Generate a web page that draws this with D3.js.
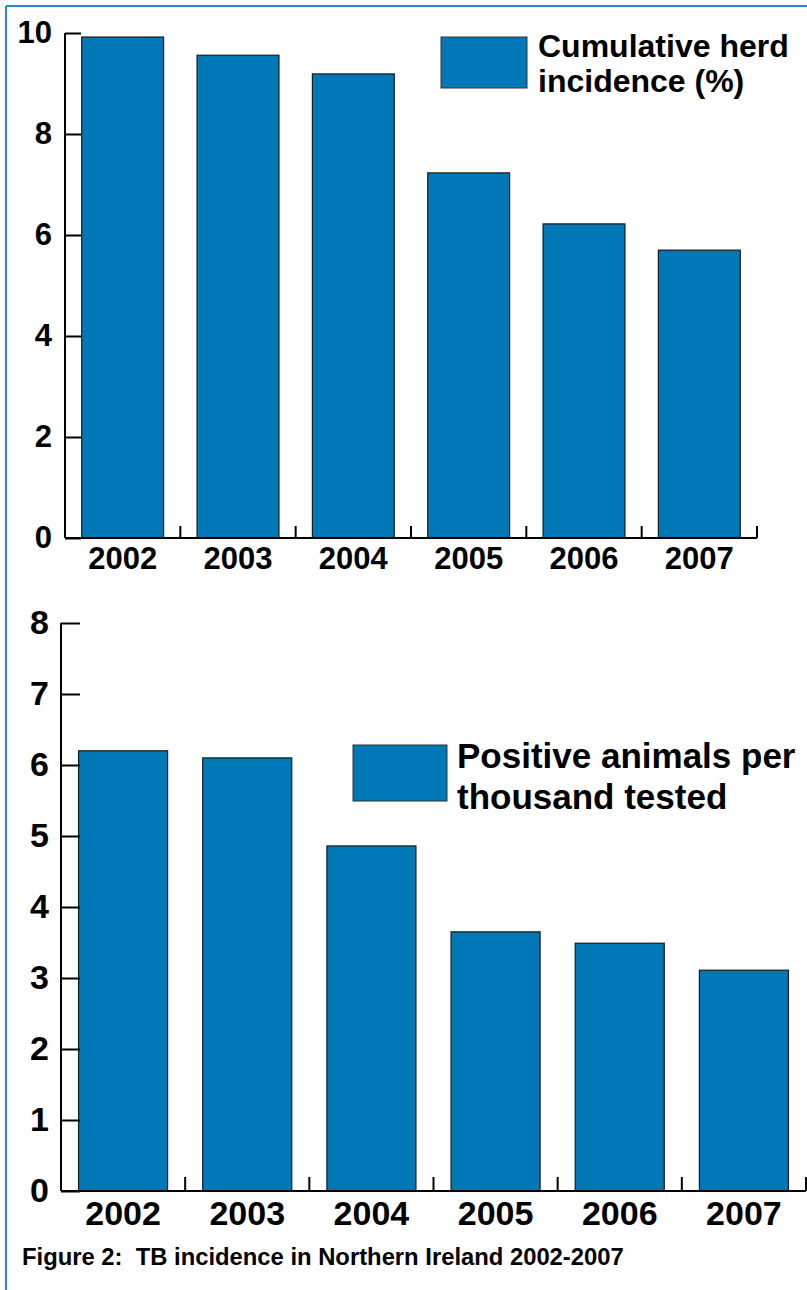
<!DOCTYPE html>
<html>
<head>
<meta charset="utf-8">
<script src="https://cdn.jsdelivr.net/npm/d3@7"></script>
<style>
  html, body { margin: 0; padding: 0; background: #fff; }
  svg { display: block; font-family: "Liberation Sans", Arial, Helvetica, sans-serif; font-weight: bold; }
</style>
</head>
<body>
<svg id="fig" width="807" height="1290"></svg>
<script>
// Year categories shared by both panels
const years = ["2002", "2003", "2004", "2005", "2006", "2007"];

// Panel 1: cumulative herd incidence (%)
const herdIncidence = [9.92, 9.56, 9.19, 7.23, 6.22, 5.70];
const herdTicks = [0, 2, 4, 6, 8, 10];
const herdLegend = ["Cumulative herd", "incidence (%)"];

// Panel 2: positive animals per thousand tested
const animalRate = [6.20, 6.10, 4.86, 3.65, 3.49, 3.11];
const animalTicks = [0, 1, 2, 3, 4, 5, 6, 7, 8];
const animalLegend = ["Positive animals per", "thousand tested"];

const caption = "Figure 2:  TB incidence in Northern Ireland 2002-2007";

const barFill = "#0077b6";
const frameColor = "#2a88c8";

const svg = d3.select("#fig");

// Frame along the top and left edges
svg.append("line").attr("x1", 6).attr("x2", 807).attr("y1", 6).attr("y2", 6)
  .attr("stroke", frameColor).attr("stroke-width", 2);
svg.append("line").attr("x1", 6).attr("x2", 6).attr("y1", 6).attr("y2", 1290)
  .attr("stroke", frameColor).attr("stroke-width", 2);

function panel(cfg) {
  const g = svg.append("g");
  const x = d3.scaleBand().domain(years).range([cfg.x0, cfg.x1])
    .paddingInner(cfg.padIn).paddingOuter(cfg.padIn / 2);
  const y = d3.scaleLinear().domain(cfg.domain).range([cfg.y0, cfg.y1]);

  // bars
  g.selectAll("rect.bar").data(cfg.values).join("rect")
    .attr("class", "bar")
    .attr("x", (d, i) => x(years[i]))
    .attr("y", d => y(d))
    .attr("width", x.bandwidth())
    .attr("height", d => y(0) - y(d))
    .attr("fill", barFill)
    .attr("stroke", "#1a1a1a")
    .attr("stroke-width", 1.2);

  // y axis with inward ticks
  const ya = g.append("g").attr("transform", `translate(${cfg.x0},0)`)
    .call(d3.axisLeft(y).tickValues(cfg.ticks).tickSize(-cfg.yTick)
      .tickPadding(cfg.yPad).tickFormat(d3.format("d")));
  ya.select(".domain").attr("stroke", "#000").attr("stroke-width", 2)
    .attr("d", `M0,${cfg.y1}V${cfg.y0}`);
  ya.selectAll(".tick line").attr("stroke", "#000").attr("stroke-width", 2);
  ya.selectAll(".tick text").attr("font-size", cfg.font).attr("fill", "#000")
    .attr("font-weight", "bold").attr("font-family", "Liberation Sans, Arial, sans-serif");

  // x axis with category labels
  const xa = g.append("g").attr("transform", `translate(0,${cfg.y0})`)
    .call(d3.axisBottom(x).tickSize(0).tickPadding(cfg.xPad));
  xa.select(".domain").attr("stroke", "#000").attr("stroke-width", 2)
    .attr("d", `M${cfg.x0},0H${cfg.x1}`);
  xa.selectAll(".tick text").attr("font-size", cfg.font).attr("fill", "#000")
    .attr("font-weight", "bold").attr("font-family", "Liberation Sans, Arial, sans-serif");

  // upward tick marks at category boundaries
  const bounds = years.map(d => x(d) + x.bandwidth() + (x.step() - x.bandwidth()) / 2);
  g.selectAll("line.sep").data(bounds).join("line")
    .attr("class", "sep")
    .attr("x1", d => d).attr("x2", d => d)
    .attr("y1", cfg.y0).attr("y2", cfg.y0 - cfg.xTick)
    .attr("stroke", "#000").attr("stroke-width", 2);

  // legend
  const lg = cfg.legend;
  g.append("rect").attr("x", lg.x).attr("y", lg.y).attr("width", lg.w).attr("height", lg.h)
    .attr("fill", barFill).attr("stroke", "#333").attr("stroke-width", 1);
  g.append("text").attr("x", lg.tx).attr("y", lg.ty)
    .attr("font-size", lg.font).attr("fill", "#000")
    .selectAll("tspan").data(cfg.legendText).join("tspan")
    .attr("x", lg.tx).attr("dy", (d, i) => i ? lg.lh : 0)
    .text(d => d);
}

panel({
  values: herdIncidence, ticks: herdTicks, legendText: herdLegend,
  domain: [0, 10], x0: 65, x1: 757, y0: 538, y1: 33, padIn: 0.29,
  yTick: 16, xTick: 12, yPad: 13, xPad: 9, font: 31,
  legend: { x: 441, y: 37, w: 86, h: 51, tx: 538, ty: 57, lh: 35, font: 32 }
});

panel({
  values: animalRate, ticks: animalTicks, legendText: animalLegend,
  domain: [0, 8], x0: 61, x1: 806, y0: 1191, y1: 623, padIn: 0.283,
  yTick: 19, xTick: 14, yPad: 12, xPad: 10, font: 34,
  legend: { x: 353, y: 745, w: 94, h: 56, tx: 457, ty: 768, lh: 41, font: 35 }
});

// caption
svg.append("text").attr("x", 22).attr("y", 1265)
  .attr("font-size", 23.8).attr("fill", "#000")
  .style("white-space", "pre").attr("xml:space", "preserve")
  .text(caption);
</script>
</body>
</html>
